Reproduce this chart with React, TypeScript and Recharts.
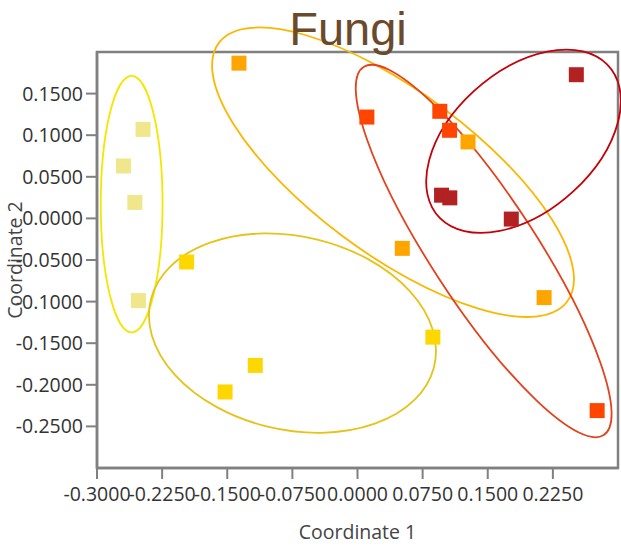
import React from 'react';
import * as Recharts from 'recharts';

const { ScatterChart, Scatter, XAxis, YAxis, Customized } = Recharts;
const R: any = Recharts;

// point groups
const khakiX = [-0.247, -0.2695, -0.2564, -0.2523];
const khakiY = [0.107, 0.063, 0.0192, -0.0988];
const goldX = [-0.1968, -0.1177, -0.1525, 0.0868];
const goldY = [-0.0524, -0.1767, -0.2086, -0.1427];
const orangeX = [-0.1365, 0.0516, 0.1273, 0.2149];
const orangeY = [0.1866, -0.036, 0.0919, -0.0952];
const redOrangeX = [0.0108, 0.0948, 0.106, 0.276];
const redOrangeY = [0.1218, 0.1287, 0.1059, -0.231];
const darkRedX = [0.252, 0.0968, 0.1063, 0.1771];
const darkRedY = [0.1727, 0.0279, 0.0247, -0.0008];

const groupColors = ['#f0e68c', '#ffd700', '#ffa500', '#ff4500', '#b22222'];

// confidence ellipses (data units): centre, semi-axes, rotation in degrees
const ellipseCx = [-0.2601, -0.0749, 0.0409, 0.1453, 0.1912];
const ellipseCy = [0.0171, -0.1379, 0.0555, -0.0392, 0.0927];
const ellipseRx = [0.0356, 0.168, 0.2538, 0.2609, 0.1334];
const ellipseRy = [0.1541, 0.116, 0.0963, 0.0612, 0.0831];
const ellipseAngle = [0, -14.3, -38.1, -58.1, 43.85];
const ellipseColors = ['#f5e600', '#e6c31a', '#fdb600', '#e2421c', '#c40008'];

const xTicks = [-0.3, -0.225, -0.15, -0.075, 0, 0.075, 0.15, 0.225];
const yTicks = [-0.25, -0.2, -0.15, -0.1, -0.05, 0, 0.05, 0.1, 0.15];
const xDomain = [-0.3, 0.3];
const yDomain = [-0.3, 0.2];

const toPoints = (xs: number[], ys: number[]) => xs.map((x, i) => ({ x, y: ys[i] }));
const groups = [
    toPoints(khakiX, khakiY),
    toPoints(goldX, goldY),
    toPoints(orangeX, orangeY),
    toPoints(redOrangeX, redOrangeY),
    toPoints(darkRedX, darkRedY),
];

const W = 621;
const H = 546;
const margin = { top: 52, right: 3, bottom: 0, left: 0 };
const yAxisWidth = 97;
const xAxisHeight = 78;
const frame = '#808080';
const font = '"Open Sans", sans-serif';
const tickFont = { fontSize: 19.5, fill: '#333', fontFamily: font };

const fallbackPlot = {
    x: margin.left + yAxisWidth,
    y: margin.top,
    width: W - margin.left - margin.right - yAxisWidth,
    height: H - margin.top - margin.bottom - xAxisHeight,
};

const EllipseLayer = () => {
    const hook = R.usePlotArea;
    const area = hook ? hook() : null;
    const plot = area || fallbackPlot;
    const sx = plot.width / (xDomain[1] - xDomain[0]);
    const sy = plot.height / (yDomain[1] - yDomain[0]);
    return (
        <g>
            <rect
                x={plot.x}
                y={plot.y}
                width={plot.width}
                height={plot.height}
                fill="none"
                stroke={frame}
                strokeWidth={2.5}
            />
            {ellipseCx.map((cx, i) => {
                const phi = (ellipseAngle[i] * Math.PI) / 180;
                const a = sx * ellipseRx[i] * Math.cos(phi);
                const c = -sx * ellipseRy[i] * Math.sin(phi);
                const b = -sy * ellipseRx[i] * Math.sin(phi);
                const d = -sy * ellipseRy[i] * Math.cos(phi);
                const e = plot.x + (cx - xDomain[0]) * sx;
                const f = plot.y + (yDomain[1] - ellipseCy[i]) * sy;
                return (
                    <ellipse
                        key={i}
                        cx={0}
                        cy={0}
                        rx={1}
                        ry={1}
                        fill="none"
                        stroke={ellipseColors[i]}
                        strokeWidth={1.8}
                        vectorEffect="non-scaling-stroke"
                        transform={`matrix(${a} ${b} ${c} ${d} ${e} ${f})`}
                    />
                );
            })}
            <text
                x={348}
                y={45}
                textAnchor="middle"
                fontSize={47}
                fill="#6b4a2b"
                fontFamily='"Liberation Sans", Arial, sans-serif'
            >
                Fungi
            </text>
        </g>
    );
};

const square = (color: string) => (props: any) => (
    <rect x={props.cx - 7.5} y={props.cy - 7.5} width={15} height={15} fill={color} />
);

export default function App() {
    return (
        <div style={{ position: 'absolute', left: 0, top: 0, width: W, height: H, background: '#fff' }}>
            <ScatterChart width={W} height={H} margin={margin}>
                <XAxis
                    type="number"
                    dataKey="x"
                    domain={xDomain}
                    ticks={xTicks}
                    interval={0}
                    allowDataOverflow
                    height={xAxisHeight}
                    tickFormatter={(v: number) => v.toFixed(4)}
                    tick={tickFont}
                    tickSize={11}
                    tickMargin={8}
                    axisLine={{ stroke: frame, strokeWidth: 2.5 }}
                    tickLine={{ stroke: frame, strokeWidth: 2 }}
                    label={{
                        value: 'Coordinate 1',
                        position: 'insideBottom',
                        offset: 7,
                        style: { fontSize: 19.5, fill: '#444', fontFamily: font },
                    }}
                />
                <YAxis
                    type="number"
                    dataKey="y"
                    domain={yDomain}
                    ticks={yTicks}
                    interval={0}
                    allowDataOverflow
                    width={yAxisWidth}
                    tickFormatter={(v: number) => v.toFixed(4)}
                    tick={tickFont}
                    tickSize={11}
                    tickMargin={3}
                    axisLine={{ stroke: frame, strokeWidth: 2.5 }}
                    tickLine={{ stroke: frame, strokeWidth: 2 }}
                    label={{
                        value: 'Coordinate 2',
                        angle: -90,
                        position: 'insideLeft',
                        offset: 15,
                        style: { textAnchor: 'middle', fontSize: 19.5, fill: '#444', fontFamily: font },
                    }}
                />
                {groups.map((data, i) => (
                    <Scatter
                        key={i}
                        data={data}
                        fill={groupColors[i]}
                        shape={square(groupColors[i])}
                        isAnimationActive={false}
                    />
                ))}
                <Customized component={<EllipseLayer />} />
            </ScatterChart>
        </div>
    );
}
